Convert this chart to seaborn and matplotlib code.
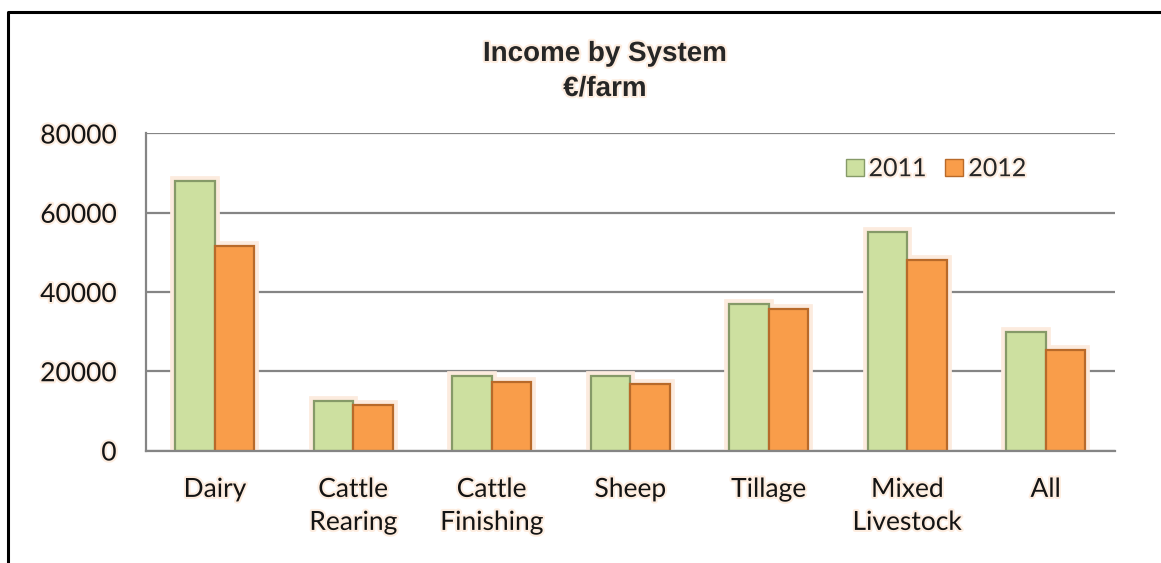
import numpy as np
import pandas as pd
import matplotlib.pyplot as plt
import matplotlib.patheffects as pe
from matplotlib.patches import Rectangle
from matplotlib.lines import Line2D
import seaborn as sns

# values (euro per farm)
systems = ["Dairy", "Cattle\nRearing", "Cattle\nFinishing", "Sheep", "Tillage", "Mixed\nLivestock", "All"]
income_2011 = [68000, 12600, 18900, 18900, 37000, 55200, 29900]
income_2012 = [51700, 11500, 17300, 16800, 35600, 48200, 25300]
years = ["2011", "2012"]
yticks = [0, 20000, 40000, 60000, 80000]

df = pd.DataFrame({
    "system": systems * 2,
    "year": [years[0]] * len(systems) + [years[1]] * len(systems),
    "income": income_2011 + income_2012,
})

sns.set_style("white")
plt.rcParams["font.family"] = ["Lato", "DejaVu Sans"]

face = {"2011": "#cde0a0", "2012": "#f99d4a"}
edge = {"2011": "#869a68", "2012": "#b86a2a"}
halo = "#fcebde"
grey = "#858585"
glow = [pe.withStroke(linewidth=3, foreground="#fdede0")]

fig = plt.figure(figsize=(11.61, 5.63), dpi=100)
ax = fig.add_axes([0.1255, 0.1998, 0.8349, 0.5631])

sns.barplot(data=df, x="system", y="income", hue="year", palette=face,
            width=0.57, saturation=1, ax=ax, zorder=2)

# outline + soft peach glow behind every bar
for cont, yr in zip(ax.containers, years):
    for bar in cont:
        bar.set_edgecolor(edge[yr])
        bar.set_linewidth(1.6)
        bar.set_zorder(2)
        ax.add_patch(Rectangle(bar.get_xy(), bar.get_width(), bar.get_height(),
                               facecolor=halo, edgecolor=halo, linewidth=7,
                               zorder=1.5))

ax.set_xlim(-0.5, len(systems) - 0.5)
ax.set_ylim(0, 80000)
ax.set_yticks(yticks)
ax.set_yticklabels([str(v) for v in yticks])
ax.set_xlabel("")
ax.set_ylabel("")

ax.yaxis.grid(True, color=grey, linewidth=1.6, zorder=0.5)
ax.set_axisbelow(True)
for s in ["top", "right"]:
    ax.spines[s].set_visible(False)
for s in ["left", "bottom"]:
    ax.spines[s].set_color(grey)
    ax.spines[s].set_linewidth(1.6)

ax.tick_params(axis="y", length=9, width=1.6, color=grey, pad=12,
               labelsize=19, labelcolor="#141414")
ax.tick_params(axis="x", which="major", length=0, pad=19,
               labelsize=19, labelcolor="#141414")
ax.set_xticks(np.arange(-0.5, len(systems), 1), minor=True)
ax.tick_params(axis="x", which="minor", length=8, width=1.6, color=grey)
for lab in ax.get_xticklabels():
    lab.set_linespacing(1.4)
    lab.set_path_effects(glow)
for lab in ax.get_yticklabels():
    lab.set_path_effects(glow)

ax.legend(loc="center left", bbox_to_anchor=(0.722, 0.889), ncol=2,
          frameon=False, fontsize=18, handlelength=0.72, handleheight=0.72,
          handletextpad=0.2, columnspacing=0.75, borderpad=0, borderaxespad=0)
for t in ax.get_legend().get_texts():
    t.set_path_effects(glow)
for h, yr in zip(ax.get_legend().legend_handles, years):
    h.set_edgecolor(edge[yr])

fig.text(0.521, 0.873, "Income by System\n€/farm", ha="center", va="center",
         fontsize=20, fontweight="bold", family=["Liberation Sans", "DejaVu Sans"],
         linespacing=1.45, path_effects=glow)

# frame lines of the original screenshot
fig.add_artist(Line2D([0.0073, 0.0073, 1.0], [0.0, 0.978, 0.978],
                      transform=fig.transFigure, color="black", linewidth=2.2))

plt.savefig("out.png", dpi=100)
plt.close(fig)
